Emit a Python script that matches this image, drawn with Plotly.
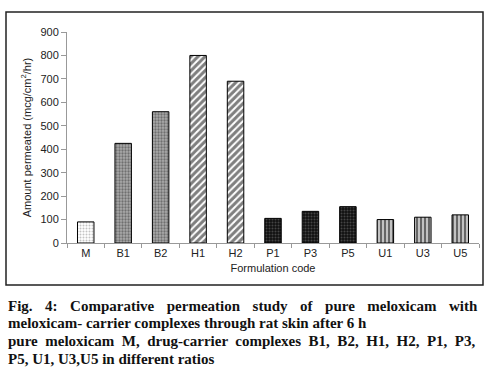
import plotly.graph_objects as go

categories = ["M", "B1", "B2", "H1", "H2", "P1", "P3", "P5", "U1", "U3", "U5"]
values = [90, 425, 560, 800, 690, 105, 135, 155, 100, 110, 120]
y_ticks = [0, 100, 200, 300, 400, 500, 600, 700, 800, 900]

groups = [
    # (indices, shape, fg, bg, size, solidity)
    ([0], ".", "#888888", "#ffffff", 3, 0.35),
    ([1, 2], ".", "#333333", "#aaaaaa", 3, 0.45),
    ([3, 4], "/", "#000000", "#ffffff", 5, 0.6),
    ([5, 6, 7], ".", "#777777", "#111111", 3, 0.35),
    ([8, 9, 10], "|", "#000000", "#cccccc", 4, 0.55),
]

fig = go.Figure()
for idx, shp, fgc, bgc, sz, so in groups:
    fig.add_trace(go.Bar(
        x=[categories[i] for i in idx], y=[values[i] for i in idx],
        marker=dict(
            color=bgc,
            line=dict(color="#000000", width=1),
            pattern=dict(shape=shp, fgcolor=fgc, bgcolor=bgc, size=sz, solidity=so, fillmode="overlay"),
        ),
        width=0.44,
    ))

L, R, T, B = 67, 21, 32, 130
W, H = 500, 373
pw, ph = W - L - R, H - T - B

def px(x):
    return (x - L) / pw

def py(y):
    return (H - B - y) / ph

fig.add_shape(type="rect", xref="paper", yref="paper",
              x0=px(6), x1=px(483), y0=py(285), y1=py(12),
              line=dict(color="#222222", width=1.5), fillcolor="rgba(0,0,0,0)")

axfont = dict(family="Liberation Sans, Arial", size=11, color="#222222")
fig.update_xaxes(
    type="category", categoryorder="array", categoryarray=categories,
    showline=True, linecolor="#999999", linewidth=1,
    ticks="outside", tickson="boundaries", ticklen=4, tickcolor="#999999",
    tickfont=axfont,
    title=dict(text="Formulation code", font=axfont, standoff=6),
)
fig.update_yaxes(
    range=[0, 900], tickvals=y_ticks, showline=True, linecolor="#999999", linewidth=1,
    ticks="outside", ticklen=5, tickcolor="#999999", showgrid=False, zeroline=False,
    tickfont=axfont,
    title=dict(text="Amount permeated (mcg/cm<sup>2</sup>/hr)", font=axfont, standoff=6),
)

capfont = dict(family="Liberation Serif, Times New Roman, serif", size=15, color="#111111")
g1 = " \u2002\u200a"
g3 = " \u2005"
line1 = g1.join("Fig. 4: Comparative permeation study of pure meloxicam with".split(" "))
line3 = g3.join("pure meloxicam M, drug-carrier complexes B1, B2, H1, H2, P1, P3,".split(" "))
lines = [
    (line1, 306),
    ("meloxicam- carrier complexes through rat skin after 6 h", 323),
    (line3, 341),
    ("P5, U1, U3,U5 in different ratios", 359),
]
for txt, yy in lines:
    fig.add_annotation(text="<b>" + txt + "</b>", xref="paper", yref="paper", x=px(6), y=py(yy),
                       xanchor="left", yanchor="middle", showarrow=False, font=capfont)

fig.update_layout(
    width=W, height=H, margin=dict(l=L, r=R, t=T, b=B),
    paper_bgcolor="white", plot_bgcolor="white", showlegend=False,
    barmode="overlay",
)
fig.write_html("out.html", config={"displayModeBar": False},
               post_script="document.body.style.margin='0';")
